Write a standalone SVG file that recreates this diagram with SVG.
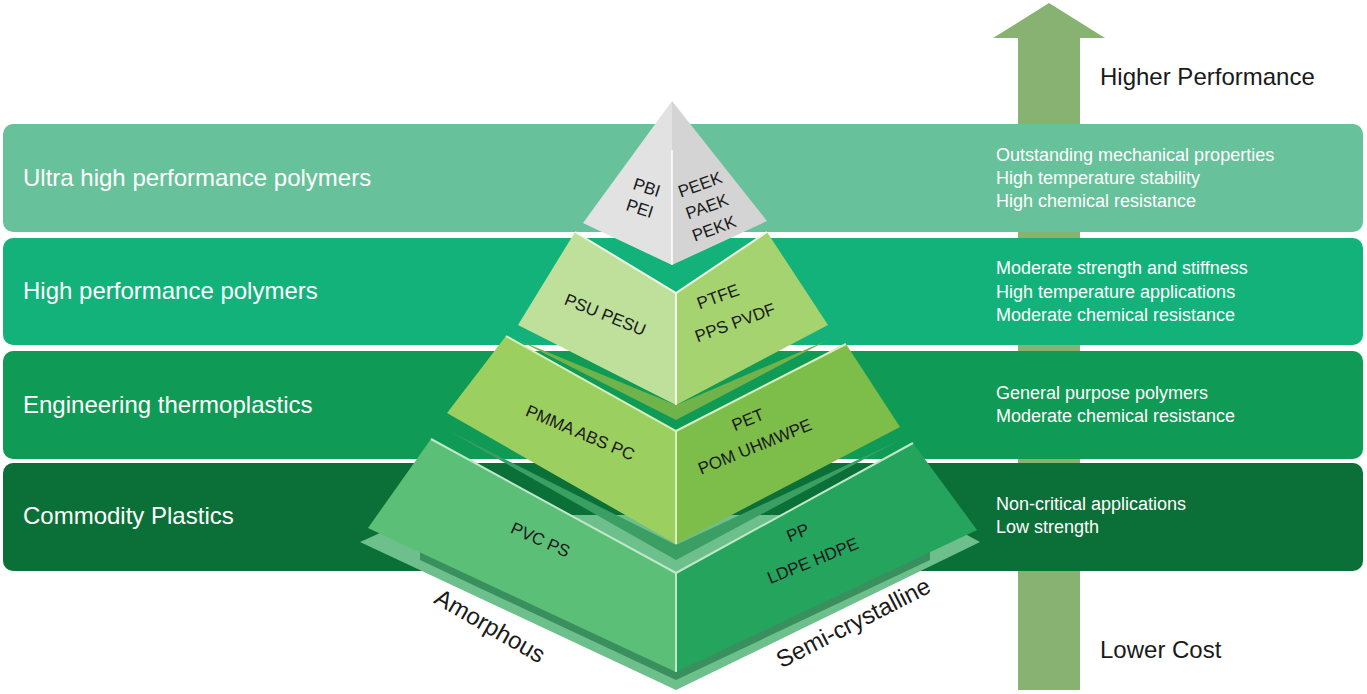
<svg xmlns="http://www.w3.org/2000/svg" width="1367" height="694" viewBox="0 0 1367 694">
<style>
.t{font-family:"Liberation Sans",Arial,sans-serif;fill:#fff}
.h{font-size:24px}.d{font-size:18px}
.p{font-family:"Liberation Sans",Arial,sans-serif;font-size:17px;fill:#1a1a1a}
.k{font-family:"Liberation Sans",Arial,sans-serif;font-size:24px;fill:#1a1a1a}
</style>
<rect width="1367" height="694" fill="#fff"/>
<g id="arrow"><polygon points="993,38 1049,3 1105,38 1080,38 1080,690 1018,690 1018,38" fill="#87b271"/></g>
<g id="bands">
<rect x="3" y="124" width="1360" height="108" rx="10" fill="#67c29b"/>
<rect x="3" y="238" width="1360" height="107" rx="10" fill="#13b27b"/>
<rect x="3" y="351" width="1360" height="108" rx="10" fill="#0f9a55"/>
<rect x="3" y="463" width="1360" height="108" rx="10" fill="#0b7038"/>
<text class="t h" x="23" y="186">Ultra high performance polymers</text>
<text class="t h" x="23" y="299">High performance polymers</text>
<text class="t h" x="23" y="413">Engineering thermoplastics</text>
<text class="t h" x="23" y="524">Commodity Plastics</text>
<text class="t d" x="996" y="161">Outstanding mechanical properties</text>
<text class="t d" x="996" y="184">High temperature stability</text>
<text class="t d" x="996" y="207">High chemical resistance</text>
<text class="t d" x="996" y="274">Moderate strength and stiffness</text>
<text class="t d" x="996" y="298">High temperature applications</text>
<text class="t d" x="996" y="321">Moderate chemical resistance</text>
<text class="t d" x="996" y="399">General purpose polymers</text>
<text class="t d" x="996" y="422">Moderate chemical resistance</text>
<text class="t d" x="996" y="510">Non-critical applications</text>
<text class="t d" x="996" y="533">Low strength</text>
</g>
<g id="base"><polygon points="360,542 420,515 930,515 980,542 676,690" fill="#6dbf8c"/>
<polygon points="420,545 676,670 930,545 930,560 676,680 420,560" fill="#3a8f5e"/></g>
<g id="tier4">
<polygon points="431,439 368,528 676,672 676,573" fill="#5cbf78"/>
<polygon points="676,573 913,443 977,530 676,672" fill="#25a45e"/>
<polyline points="431,439 676,573 913,443" fill="none" stroke="#bfe8c8" stroke-width="2"/>
<line x1="676" y1="573" x2="676" y2="672" stroke="#bfe8c8" stroke-width="2"/>
<text class="p" transform="translate(538,545) rotate(24)" text-anchor="middle">PVC   PS</text>
<text class="p" transform="translate(800,538) rotate(-22)" text-anchor="middle">PP</text>
<text class="p" transform="translate(815,566) rotate(-22)" text-anchor="middle">LDPE   HDPE</text>
</g>
<g id="tier3">
<polygon points="447,430 676,560 900,440 676,545" fill="#3b9e62"/>
<polygon points="506,336 447,413 676,544 676,431" fill="#9bcf5f"/>
<polygon points="676,431 846,344 900,427 676,544" fill="#7dbd4a"/>
<polyline points="506,336 676,431 846,344" fill="none" stroke="#d8efc0" stroke-width="2"/>
<line x1="676" y1="431" x2="676" y2="544" stroke="#d8efc0" stroke-width="2"/>
<text class="p" transform="translate(578,438) rotate(23)" text-anchor="middle">PMMA  ABS  PC</text>
<text class="p" transform="translate(750,425) rotate(-22)" text-anchor="middle">PET</text>
<text class="p" transform="translate(757,452) rotate(-22)" text-anchor="middle">POM UHMWPE</text>
</g>
<g id="tier2">
<polygon points="518,340 676,420 828,340 676,405" fill="#6fb34a"/>
<polygon points="575,232 518,325 676,405 676,293" fill="#bfe09a"/>
<polygon points="676,293 767,232 828,325 676,405" fill="#a5d36f"/>
<polyline points="575,232 676,293 767,232" fill="none" stroke="#f0f8e6" stroke-width="2"/>
<line x1="676" y1="293" x2="676" y2="405" stroke="#f0f8e6" stroke-width="2"/>
<text class="p" transform="translate(603,320) rotate(22)" text-anchor="middle">PSU PESU</text>
<text class="p" transform="translate(720,302) rotate(-20)" text-anchor="middle">PTFE</text>
<text class="p" transform="translate(737,328) rotate(-20)" text-anchor="middle">PPS  PVDF</text>
</g>
<g id="tier1">
<polygon points="672,101 583,223 672,265" fill="#e2e2e2"/>
<polygon points="672,101 767,221 672,265" fill="#d4d4d4"/>
<line x1="672" y1="150" x2="672" y2="265" stroke="#fff" stroke-width="1.5"/>
<text class="p" transform="translate(645,193) rotate(18)" text-anchor="middle">PBI</text>
<text class="p" transform="translate(638,214) rotate(18)" text-anchor="middle">PEI</text>
<text class="p" transform="translate(702,190) rotate(-20)" text-anchor="middle">PEEK</text>
<text class="p" transform="translate(709,212) rotate(-20)" text-anchor="middle">PAEK</text>
<text class="p" transform="translate(716,234) rotate(-20)" text-anchor="middle">PEKK</text>
</g>
<text class="k" transform="translate(486,633) rotate(30)" text-anchor="middle">Amorphous</text>
<text class="k" transform="translate(857,630) rotate(-27)" text-anchor="middle">Semi-crystalline</text>
<text class="k" x="1100" y="85">Higher Performance</text>
<text class="k" x="1100" y="658">Lower Cost</text>
</svg>
